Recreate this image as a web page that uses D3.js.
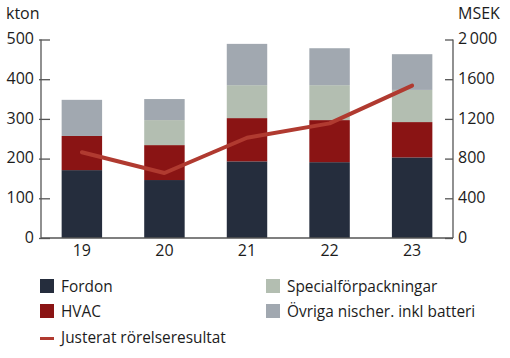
<!DOCTYPE html>
<html><head><meta charset="utf-8">
<script src="https://cdn.jsdelivr.net/npm/d3@7"></script>
<style>
body{margin:0;background:#fff;}
text{font-family:"Open Sans",sans-serif;fill:#1c1c1c;}
</style></head>
<body><svg id="c" width="510" height="358"></svg>
<script>
const years = ["19","20","21","22","23"];
const fordon = [171,146,193,191,203];
const hvac = [86,88,109,106,89];
const special = [0,63,83,88,81];
const ovriga = [91,53,104,93,90];
const resultat = [864,655,1010,1155,1535];
const leftTicks = [0,100,200,300,400,500];
const rightTicks = [0,400,800,1200,1600,2000];
const seriesNames = ["Fordon","HVAC","Specialförpackningar","Övriga nischer. inkl batteri"];
const lineName = "Justerat rörelseresultat";
const colors = ["#252d3d","#8a1414","#b3beb1","#a1a8b0"];
const lineColor = "#b03a30";

const svg = d3.select("#c");
const x0 = 41, x1 = 453, yb = 238, yt = 39.5;
const x = d3.scaleBand().domain(years).range([x0,x1]).paddingInner(0.51).paddingOuter(0.25);
const yL = d3.scaleLinear().domain([0,500]).range([yb,yt]);
const yR = d3.scaleLinear().domain([0,2000]).range([yb,yt]);

const rows = years.map((y,i)=>({year:y, s0:fordon[i], s1:hvac[i], s2:special[i], s3:ovriga[i]}));
const stack = d3.stack().keys(["s0","s1","s2","s3"])(rows);
svg.append("g").selectAll("g").data(stack).join("g").attr("fill",(d,i)=>colors[i])
  .selectAll("rect").data(d=>d).join("rect")
  .attr("x",d=>x(d.data.year)).attr("width",x.bandwidth())
  .attr("y",d=>yL(d[1])).attr("height",d=>yL(d[0])-yL(d[1]));

// axes
const axCol = "#555";
const gl = svg.append("g").attr("transform",`translate(${x0},0)`)
  .call(d3.axisRight(yL).tickValues(leftTicks).tickSize(9).tickFormat(""));
gl.select(".domain").remove();
gl.selectAll("line").attr("stroke",axCol).attr("stroke-width",1.3).attr("x1",-2);
svg.append("line").attr("x1",x0).attr("x2",x0).attr("y1",yt).attr("y2",yb).attr("stroke",axCol).attr("stroke-width",1.3);
svg.selectAll(".ll").data(leftTicks).join("text").attr("class","ll")
  .attr("x",34).attr("y",d=>yL(d)).attr("dy","0.3em").attr("text-anchor","end")
  .attr("font-size",16).text(d=>d);

const gr = svg.append("g").attr("transform",`translate(${x1},0)`)
  .call(d3.axisLeft(yR).tickValues(rightTicks).tickSize(8).tickFormat(""));
gr.select(".domain").remove();
gr.selectAll("line").attr("stroke",axCol).attr("stroke-width",1.3);
svg.append("line").attr("x1",x1).attr("x2",x1).attr("y1",yt).attr("y2",yb).attr("stroke",axCol).attr("stroke-width",1.3);
const fmt = d=> d>=1000 && d%1000===0 ? String(d/1000)+"\u2009000" : String(d);
svg.selectAll(".rl").data(rightTicks).join("text").attr("class","rl")
  .attr("x",458).attr("y",d=>yR(d)).attr("dy","0.3em").attr("text-anchor","start")
  .attr("font-size",16).text(fmt);

svg.append("line").attr("x1",x0).attr("x2",x1).attr("y1",yb).attr("y2",yb).attr("stroke",axCol).attr("stroke-width",1.5);

svg.selectAll(".xl").data(years).join("text").attr("class","xl")
  .attr("x",d=>x(d)+x.bandwidth()/2).attr("y",256).attr("text-anchor","middle")
  .attr("font-size",16).text(d=>d);

svg.append("text").attr("x",6).attr("y",19).attr("font-size",16).text("kton");
svg.append("text").attr("x",458).attr("y",19).attr("font-size",16).text("MSEK");

// line
const line = d3.line().x((d,i)=>x(years[i])+x.bandwidth()/2).y(d=>yR(d));
svg.append("path").datum(resultat).attr("d",line).attr("fill","none")
  .attr("stroke",lineColor).attr("stroke-width",4).attr("stroke-linecap","round").attr("stroke-linejoin","round");

// legend
const leg = [
  {t:"sq",c:colors[0],n:seriesNames[0],x:40,y:279},
  {t:"sq",c:colors[2],n:seriesNames[2],x:266,y:279},
  {t:"sq",c:colors[1],n:seriesNames[1],x:40,y:304},
  {t:"sq",c:colors[3],n:seriesNames[3],x:266,y:304},
  {t:"ln",c:lineColor,n:lineName,x:40,y:330}
];
leg.forEach(l=>{
  if(l.t==="sq") svg.append("rect").attr("x",l.x).attr("y",l.y).attr("width",14).attr("height",14).attr("fill",l.c);
  else svg.append("line").attr("x1",l.x).attr("x2",l.x+14).attr("y1",l.y+8.5).attr("y2",l.y+8.5).attr("stroke",l.c).attr("stroke-width",3);
  svg.append("text").attr("x",l.x+21).attr("y",l.y+7).attr("dy","0.36em").attr("font-size",15.4).text(l.n);
});
</script></body></html>
